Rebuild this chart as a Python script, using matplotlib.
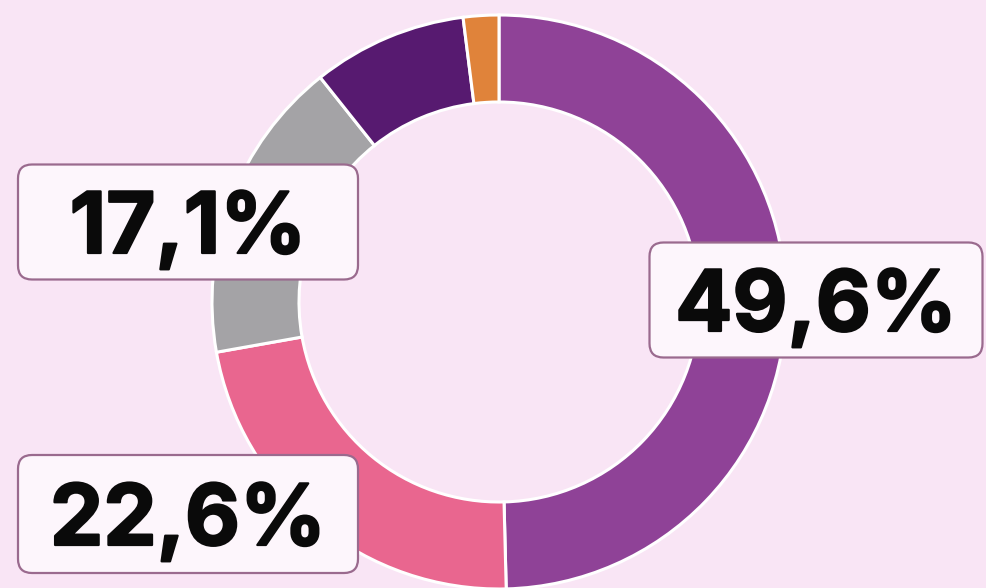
import matplotlib
matplotlib.use("Agg")
import matplotlib.pyplot as plt
import matplotlib.patheffects as pe
from matplotlib.patches import FancyBboxPatch

# slice shares (%), clockwise from 12 o'clock
shares = [49.6, 22.6, 17.1, 8.7, 2.0]
colors = ["#8F4297", "#E9668F", "#A4A3A6", "#571A70", "#E0833A"]
labels = ["49,6%", "22,6%", "17,1%"]

BG = "#F9E5F5"
W, H = 986, 588


def draw_label(ax, text, cx, cy, w, h):
    # rounded box centred on (cx, cy) in pixel-like data units
    box = FancyBboxPatch((cx - w / 2, cy - h / 2), w, h,
                         boxstyle="round,pad=0,rounding_size=14",
                         facecolor="#FDF6FC", edgecolor="#9A6A8E",
                         linewidth=1.6, zorder=5)
    ax.add_patch(box)
    ax.text(cx, cy - 31, text, ha="center", va="baseline",
            fontsize=61, fontweight="bold", color="#0A0A0A",
            family=["Inter", "DejaVu Sans"], zorder=6,
            path_effects=[pe.withStroke(linewidth=1.6, foreground="#0A0A0A")])


def main():
    fig = plt.figure(figsize=(W / 100, H / 100), dpi=100)
    fig.patch.set_facecolor(BG)
    ax = fig.add_axes([0, 0, 1, 1])
    ax.set_facecolor(BG)

    ax.pie(shares, colors=colors, radius=287, center=(499, H - 302),
           startangle=90, counterclock=False,
           wedgeprops=dict(width=87, edgecolor="white", linewidth=2.2))

    ax.set_xlim(0, W)
    ax.set_ylim(0, H)
    ax.set_aspect("equal")
    ax.axis("off")

    draw_label(ax, labels[0], 816, H - 300, 333, 115)
    draw_label(ax, labels[1], 188, H - 514, 340, 118)
    draw_label(ax, labels[2], 188, H - 222, 340, 115)

    fig.savefig("out.png", dpi=100, facecolor=BG)


if __name__ == "__main__":
    main()
